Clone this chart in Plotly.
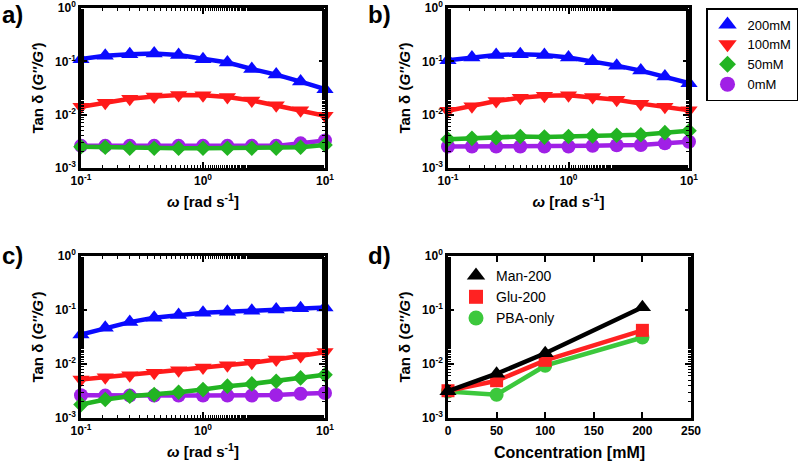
import plotly.graph_objects as go

omega = [0.1, 0.158, 0.251, 0.398, 0.631, 1.0, 1.585, 2.512, 3.981, 6.31, 10.0]

# Panel a
a_200 = [0.110, 0.127, 0.136, 0.140, 0.131, 0.110, 0.0955, 0.0718, 0.0564, 0.0418, 0.030]
a_100 = [0.0140, 0.0168, 0.0199, 0.0220, 0.0233, 0.0230, 0.0214, 0.0185, 0.0150, 0.0121, 0.0095]
a_50 = [0.0025, 0.00245, 0.00235, 0.00235, 0.00235, 0.00235, 0.00235, 0.00235, 0.00235, 0.00245, 0.0027]
a_0 = [0.0026, 0.0026, 0.0026, 0.0026, 0.0026, 0.0026, 0.0026, 0.0026, 0.0026, 0.0029, 0.00327]

# Panel b
b_200 = [0.105, 0.118, 0.131, 0.136, 0.132, 0.118, 0.100, 0.083, 0.067, 0.052, 0.039]
b_100 = [0.0118, 0.0144, 0.0180, 0.0208, 0.0226, 0.0230, 0.0214, 0.0190, 0.0161, 0.0140, 0.0121]
b_50 = [0.00346, 0.0036, 0.0037, 0.0039, 0.0038, 0.0039, 0.0040, 0.0041, 0.0042, 0.0046, 0.0050]
b_0 = [0.00253, 0.00253, 0.00253, 0.00253, 0.00253, 0.00253, 0.0026, 0.00267, 0.0027, 0.0029, 0.0031]

# Panel c
c_200 = [0.0352, 0.0468, 0.0597, 0.0718, 0.0804, 0.089, 0.0927, 0.0968, 0.102, 0.108, 0.111]
c_100 = [0.00515, 0.00569, 0.0062, 0.00685, 0.00767, 0.0086, 0.0095, 0.0105, 0.0121, 0.0140, 0.0166]
c_50 = [0.00177, 0.0022, 0.00253, 0.00271, 0.0030, 0.00336, 0.00389, 0.00428, 0.0048, 0.00553, 0.0063]
c_0 = [0.00264, 0.0026, 0.0026, 0.0026, 0.0026, 0.0026, 0.0026, 0.0026, 0.00267, 0.0028, 0.0029]

# Panel d
conc = [0, 50, 100, 200]
man200 = [0.00313, 0.0066, 0.0158, 0.112]
glu200 = [0.0032, 0.0049, 0.0117, 0.042]
pba_only = [0.0031, 0.0027, 0.0093, 0.031]

series_names = ["200mM", "100mM", "50mM", "0mM"]
d_names = ["Man-200", "Glu-200", "PBA-only"]

BLUE = "#0a0aff"
RED = "#ff1a1a"
GREEN = "#22b422"
PURPLE = "#a020e6"

styles = {
    "200mM": dict(color=BLUE, symbol="triangle-up", size=15),
    "100mM": dict(color=RED, symbol="triangle-down", size=15),
    "50mM": dict(color=GREEN, symbol="diamond", size=12),
    "0mM": dict(color=PURPLE, symbol="circle", size=14),
}

FONT = "Liberation Sans, Arial, Helvetica, sans-serif"

fig = go.Figure()

panels = [
    ("x", "y", {"200mM": a_200, "100mM": a_100, "50mM": a_50, "0mM": a_0}),
    ("x2", "y2", {"200mM": b_200, "100mM": b_100, "50mM": b_50, "0mM": b_0}),
    ("x3", "y3", {"200mM": c_200, "100mM": c_100, "50mM": c_50, "0mM": c_0}),
]

draw_order = ["0mM", "50mM", "100mM", "200mM"]
for xa, ya, data in panels:
    for name in draw_order:
        st = styles[name]
        fig.add_trace(go.Scatter(
            x=omega, y=data[name], xaxis=xa, yaxis=ya, mode="lines+markers",
            line=dict(color=st["color"], width=4.5),
            marker=dict(color=st["color"], symbol=st["symbol"], size=st["size"]),
            showlegend=False, cliponaxis=False, name=name))

# legend entries (markers only)
for i, name in enumerate(series_names):
    st = styles[name]
    fig.add_trace(go.Scatter(
        x=[None], y=[None], xaxis="x2", yaxis="y2", mode="markers",
        marker=dict(color=st["color"], symbol=st["symbol"], size=st["size"] + 1),
        name=name, legend="legend", legendrank=i + 1))

d_styles = [
    dict(color="#000000", symbol="triangle-up", size=15),
    dict(color="#ff2222", symbol="square", size=13),
    dict(color="#3cc83c", symbol="circle", size=14),
]
d_data = [man200, glu200, pba_only]
for idx in [2, 1, 0]:
    st = d_styles[idx]
    fig.add_trace(go.Scatter(
        x=conc, y=d_data[idx], xaxis="x4", yaxis="y4", mode="lines+markers",
        line=dict(color=st["color"], width=4.5),
        marker=dict(color=st["color"], symbol=st["symbol"], size=st["size"]),
        showlegend=False, cliponaxis=False, name=d_names[idx]))
for idx in range(3):
    st = d_styles[idx]
    fig.add_trace(go.Scatter(
        x=[None], y=[None], xaxis="x4", yaxis="y4", mode="markers",
        marker=dict(color=st["color"], symbol=st["symbol"], size=st["size"] + 1),
        name=d_names[idx], legend="legend2", legendrank=idx + 1))

tickfont = dict(family=FONT, size=12, color="black", weight="bold")
titlefont = dict(family=FONT, size=15, color="black", weight="bold")

log_x_common = dict(
    type="log", range=[-1, 1], showline=True, linewidth=2.5, linecolor="black",
    mirror="ticks", ticks="inside", ticklen=6, tickwidth=1.5, tickcolor="black",
    tickvals=[0.1, 1, 10], ticktext=["10<sup>-1</sup>", "10<sup>0</sup>", "10<sup>1</sup>"],
    minor=dict(ticks="inside", ticklen=3, tickwidth=1, tickcolor="black", showgrid=False),
    showgrid=False, zeroline=False, tickfont=tickfont, ticklabeloverflow="allow",
    title=dict(text="<i>ω</i> [rad s<sup>-1</sup>]", font=titlefont, standoff=10),
)
log_y_common = dict(
    type="log", range=[-3, 0], showline=True, linewidth=2.5, linecolor="black",
    mirror="ticks", ticks="inside", ticklen=6, tickwidth=1.5, tickcolor="black",
    tickvals=[0.001, 0.01, 0.1, 1],
    ticktext=["10<sup>-3</sup>", "10<sup>-2</sup>", "10<sup>-1</sup>", "10<sup>0</sup>"],
    minor=dict(ticks="inside", ticklen=3, tickwidth=1, tickcolor="black", showgrid=False),
    showgrid=False, zeroline=False, tickfont=tickfont, ticklabeloverflow="allow",
    title=dict(text="Tan δ (<i>G''/G'</i>)", font=titlefont, standoff=8),
)

W, H = 800, 461
def px(x0, x1):
    return [x0 / W, x1 / W]
def py(y0, y1):
    return [1 - y1 / H, 1 - y0 / H]

fig.update_layout(
    width=W, height=H, margin=dict(l=0, r=0, t=0, b=0, autoexpand=False),
    paper_bgcolor="white", plot_bgcolor="white",
    font=dict(family=FONT, color="black"),
    xaxis=dict(domain=px(81, 325), anchor="y", **log_x_common),
    yaxis=dict(domain=py(8, 168), anchor="x", **log_y_common),
    xaxis2=dict(domain=px(448, 689), anchor="y2", **log_x_common),
    yaxis2=dict(domain=py(8, 168), anchor="x2", **log_y_common),
    xaxis3=dict(domain=px(81, 325), anchor="y3", **log_x_common),
    yaxis3=dict(domain=py(256, 418), anchor="x3", **log_y_common),
    xaxis4=dict(domain=px(448, 691), anchor="y4", range=[0, 250], tickvals=[0, 50, 100, 150, 200, 250],
                showline=True, linewidth=2.5, linecolor="black", mirror="ticks", ticks="inside",
                ticklen=6, tickwidth=1.5, tickcolor="black", showgrid=False, zeroline=False,
                tickfont=tickfont, ticklabeloverflow="allow",
                title=dict(text="Concentration [mM]", font=dict(family=FONT, size=16, color="black", weight="bold"), standoff=10)),
    yaxis4=dict(domain=py(256, 418), anchor="x4", **log_y_common),
    legend=dict(x=706 / W, y=1 - 8 / H, xanchor="left", yanchor="top",
                bordercolor="black", borderwidth=1.5, bgcolor="white",
                font=dict(family=FONT, size=13, color="black"), itemwidth=30,
                tracegroupgap=0),
    legend2=dict(x=456 / W, y=1 - 260 / H, xanchor="left", yanchor="top",
                 bgcolor="rgba(0,0,0,0)", borderwidth=0,
                 font=dict(family=FONT, size=14, color="black"), itemwidth=30),
    annotations=[
        dict(text="<b>a)</b>", x=0, y=1 - 14 / H, xref="paper", yref="paper", xanchor="left", yanchor="middle",
             showarrow=False, font=dict(family=FONT, size=24, color="black")),
        dict(text="<b>b)</b>", x=366 / W, y=1 - 14 / H, xref="paper", yref="paper", xanchor="left", yanchor="middle",
             showarrow=False, font=dict(family=FONT, size=24, color="black")),
        dict(text="<b>c)</b>", x=0, y=1 - 255 / H, xref="paper", yref="paper", xanchor="left", yanchor="middle",
             showarrow=False, font=dict(family=FONT, size=24, color="black")),
        dict(text="<b>d)</b>", x=366 / W, y=1 - 255 / H, xref="paper", yref="paper", xanchor="left", yanchor="middle",
             showarrow=False, font=dict(family=FONT, size=24, color="black")),
    ],
)

fig.write_html("out.html", config={"displayModeBar": False},
               post_script="document.body.style.margin='0px';document.body.style.overflow='hidden';")
